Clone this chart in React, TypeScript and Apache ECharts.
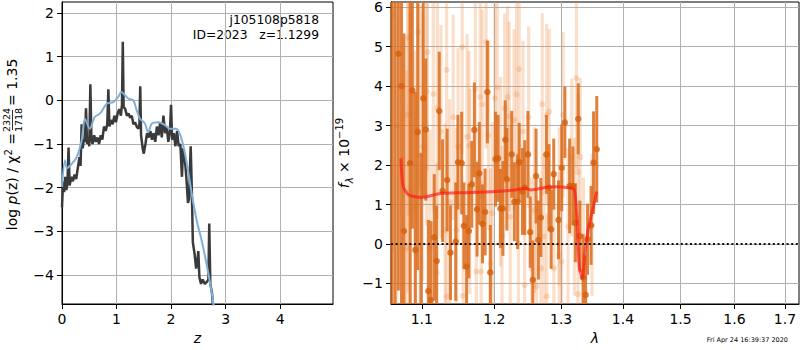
import React, { useEffect, useRef } from 'react';
import * as echarts from 'echarts';

// ---------- Left panel: log p(z) ----------
const zBlack = [0.00,0.02,0.04,0.06,0.08,0.10,0.12,0.14,0.17,0.20,0.23,0.26,0.29,0.32,0.34,0.36,0.38,0.40,0.42,0.44,0.46,0.48,0.50,0.52,0.54,0.56,0.59,0.62,0.65,0.68,0.71,0.74,0.77,0.80,0.83,0.85,0.87,0.90,0.93,0.96,0.99,1.02,1.05,1.08,1.10,1.115,1.13,1.16,1.19,1.22,1.25,1.28,1.31,1.34,1.37,1.40,1.42,1.435,1.45,1.48,1.50,1.53,1.56,1.59,1.62,1.65,1.68,1.71,1.74,1.77,1.80,1.83,1.86,1.89,1.92,1.95,1.98,2.00,2.02,2.05,2.08,2.11,2.14,2.17,2.20,2.22,2.25,2.28,2.31,2.33,2.36,2.38,2.40,2.43,2.46,2.48,2.50,2.52,2.55,2.58,2.62,2.66,2.685,2.70,2.72,2.75,2.80];
const logpBlack = [-2.45,-1.85,-2.1,-1.75,-2.05,-1.9,-1.08,-1.95,-1.75,-1.85,-1.7,-1.8,-1.55,-1.3,-1.5,-0.55,-1.1,-0.9,-0.95,-0.18,-1.0,-0.85,-1.05,0.37,-0.9,-1.0,-0.8,-0.95,-0.85,-1.0,-0.8,-0.9,-0.6,-0.7,-0.55,0.25,-0.6,-0.45,-0.55,-0.35,-0.5,-0.3,-0.2,-0.35,-0.1,1.34,-0.15,-0.2,-0.35,-0.3,-0.4,-0.35,-0.55,-0.5,-0.6,-0.65,-0.55,0.32,-0.8,-1.1,-1.22,-1.0,-0.75,-0.85,-0.7,-0.9,-0.75,-0.95,-0.6,-0.8,-0.5,-0.85,-0.35,-0.75,-0.6,-0.95,-0.7,-0.1,-0.9,-0.75,-1.05,-0.7,-1.05,-1.0,-1.75,-1.1,-1.3,-1.75,-2.35,-2.25,-1.05,-2.0,-3.25,-3.5,-3.85,-3.7,-3.45,-4.05,-4.2,-4.1,-4.2,-4.15,-4.1,-2.82,-4.2,-4.4,-5.2];

const zBlue = [0.00,0.055,0.09,0.18,0.27,0.36,0.42,0.51,0.60,0.70,0.82,0.94,1.03,1.09,1.16,1.22,1.31,1.37,1.43,1.52,1.58,1.65,1.77,1.89,1.98,2.10,2.20,2.29,2.38,2.47,2.56,2.65,2.75,2.81];
const logpBlue = [-1.98,-1.37,-1.55,-1.45,-1.3,-0.92,-0.42,-0.65,-0.38,-0.3,-0.08,-0.04,0.08,0.19,0.11,0.04,0.0,-0.23,-0.42,-0.53,-0.73,-0.53,-0.5,-0.57,-0.65,-0.65,-0.92,-1.45,-2.14,-2.75,-3.2,-3.74,-4.43,-5.0];

const leftXTicks = [0, 1, 2, 3, 4];
const leftYTicks = [-4, -3, -2, -1, 0, 1, 2];

// ---------- Right panel: spectrum ----------
const darkLam = [1.0615,1.0654,1.0696,1.0736,1.0768,1.0848,1.0877,1.0916,1.0947,1.0990,1.102,1.1053,1.1087,1.1123,1.1166,1.1198,1.1233,1.1278,1.134,1.1385,1.1457,1.1488,1.1539,1.157,1.1607,1.1639,1.168,1.1716,1.1754,1.1786,1.1831,1.1868,1.19,1.1942,1.2017,1.2054,1.2087,1.2124,1.2158,1.2181,1.2252,1.2291,1.2339,1.2363,1.2411,1.2445,1.2493,1.2527,1.2566,1.2615,1.265,1.2688,1.2772,1.2811,1.2845,1.2885,1.2959,1.3009,1.3058,1.3133,1.3184,1.3224,1.3269,1.3295,1.3346,1.3387,1.3418,1.3475,1.3515,1.3567];
const darkFlux = [6.8,-2.0,4.82,4.0,0.33,2.05,3.89,-0.15,2.84,-2.2,3.69,2.9,-1.19,-1.42,0.17,-0.43,3.37,1.35,1.62,-0.22,0.06,2.07,2.05,0.46,-0.57,0.33,1.51,2.89,0.88,1.79,0.51,0.81,3.85,-0.72,2.15,2.17,0.9,0.9,2.64,1.64,2.27,1.07,1.07,2.07,1.33,1.43,2.27,0.3,-0.91,1.72,0.1,0.67,2.27,1.43,0.37,1.77,0.61,1.93,3.08,1.47,1.47,0.54,3.17,0.2,-0.85,-1.29,0.12,0.47,2.06,2.4];
const darkErr = [8.5,8.5,6,6,5,4.5,3.5,4,3.5,4.5,2.5,1.8,1.8,2,1.6,1.4,1.5,1.3,1.3,1.2,1.5,1.2,1.3,1.1,1.3,1.2,1.1,1.2,1.2,1.3,1.0,1.1,1.3,1.2,1.2,1.1,1.0,1.2,1.0,1.3,1.1,1.0,1.2,1.0,1.1,1.2,1.1,0.9,1.0,1.2,1.0,1.0,1.0,1.1,1.0,0.9,1.0,1.1,0.9,1.2,1.0,1.0,0.9,0.9,1.1,1.0,0.9,1.0,1.3,1.35];

const lightLam = [1.0625,1.0675,1.0804,1.0817,1.0825,1.0848,1.0912,1.0955,1.0978,1.1013,1.1066,1.1074,1.111,1.1154,1.1198,1.1207,1.1256,1.1311,1.1333,1.1333,1.1375,1.1423,1.1466,1.149,1.1546,1.1559,1.1614,1.1641,1.1651,1.1729,1.1743,1.1798,1.1812,1.1826,1.1881,1.1917,1.1945,1.1972,1.2006,1.2042,1.209,1.211,1.215,1.2192,1.2216,1.223,1.2287,1.2324,1.235,1.2362,1.2419,1.2443,1.2504,1.2547,1.259,1.2623,1.2688,1.2709,1.2735,1.2777,1.2777,1.2815,1.2888,1.297,1.297,1.3009,1.3029,1.3108,1.3167,1.3208,1.3241,1.3265,1.3265,1.33,1.3353,1.349];
const lightFlux = [5.8,3.0,-0.11,3.27,5.23,1.33,0.9,5.37,2.26,2.47,3.86,4.86,-0.11,3.8,-0.74,3.44,2.85,0.35,4.41,-1.33,1.07,3.21,0.35,2.47,4.99,-1.31,2.72,2.49,1.33,3.92,-0.7,3.72,-0.7,3.54,5.12,2.75,-0.49,0.78,3.69,3.97,1.83,0.19,3.44,3.72,3.23,0.69,3.14,3.79,0.02,4.43,2.85,-1.04,3.21,-0.62,0.86,-1.08,-0.62,3.54,0.19,3.27,-1.33,3.35,-0.62,-0.28,0.95,-0.45,3.27,0.44,2.19,0.69,4.2,1.82,-1.27,2.2,-0.32,0.48];
const lightErr = [6,6,4.5,4.5,4.5,4.5,4,4,3.8,3.4,3.4,3.0,3.0,3.0,2.8,2.8,2.7,2.7,2.7,2.7,2.6,2.6,2.6,2.5,2.7,2.4,2.6,2.4,2.6,2.6,2.4,2.6,2.3,2.4,2.7,2.4,2.4,2.3,2.4,2.6,2.4,2.3,2.4,2.3,2.4,2.3,2.3,2.4,2.3,2.4,2.3,2.3,2.3,2.3,2.1,2.3,2.1,2.3,2.1,2.3,2.1,2.1,2.1,2.1,2.0,2.1,2.1,2.0,2.0,2.0,2.3,2.0,2.0,2.0,2.0,1.8];

const modelLam = [1.0728,1.0758,1.0833,1.1,1.1244,1.1559,1.2017,1.23,1.2445,1.2543,1.2777,1.293,1.3173,1.321,1.3245,1.3285,1.3335,1.3375,1.3436,1.3513,1.3565];
const modelFlux = [2.17,1.45,1.24,1.18,1.28,1.3,1.33,1.37,1.41,1.37,1.44,1.45,1.41,1.37,0.78,-0.57,-0.87,-0.24,0.44,0.95,1.33];

const rightXTicks = [1.1, 1.2, 1.3, 1.4, 1.5, 1.6, 1.7];
const rightYTicks = [-1, 0, 1, 2, 3, 4, 5, 6];

const LAM_MIN = 1.0602;
const LAM_MAX = 1.7288;
const Y2MIN = -1.52;
const Y2MAX = 6.13;

const FONT = 'DejaVu Sans';
const minus = (v: number | string) => String(v).replace('-', '\u2212');

function errRender(color: string, width: number) {
  return (params: any, api: any) => {
    const x = api.value(0);
    const y = api.value(1);
    const e = api.value(2);
    const lo = Math.max(y - e, Y2MIN);
    const hi = Math.min(y + e, Y2MAX);
    if (lo >= hi) return null;
    const p1 = api.coord([x, lo]);
    const p2 = api.coord([x, hi]);
    return {
      type: 'line',
      shape: { x1: p1[0], y1: p1[1], x2: p2[0], y2: p2[1] },
      style: { stroke: color, lineWidth: width },
    };
  };
}

function axisCommon() {
  return {
    axisLine: { show: true, onZero: false, lineStyle: { color: '#000', width: 1 } },
    splitLine: { show: true, lineStyle: { color: '#b0b0b0', width: 1 } },
  };
}

export default function App() {
  const ref = useRef<HTMLDivElement>(null);
  useEffect(() => {
    if (!ref.current) return;
    const chart = echarts.init(ref.current, undefined, { renderer: 'svg' });
    const labelStyle = { color: '#000', fontSize: 14, fontFamily: FONT };

    const option: any = {
      animation: false,
      backgroundColor: '#fff',
      grid: [
        { left: 62, top: 2, width: 271, height: 302, show: true, borderColor: '#000', borderWidth: 1 },
        { left: 391, top: 2, width: 408, height: 302, show: true, borderColor: '#000', borderWidth: 1 },
      ],
      xAxis: [
        {
          gridIndex: 0, type: 'value', min: 0, max: 4.97, splitNumber: 5,
          ...axisCommon(),
          axisTick: { show: true, length: 5, lineStyle: { color: '#000' }, customValues: leftXTicks },
          axisLabel: { ...labelStyle, margin: 8, customValues: leftXTicks, formatter: (v: number) => minus(v) },
          name: 'z', nameLocation: 'middle', nameGap: 25,
          nameTextStyle: { ...labelStyle, fontStyle: 'italic' },
        },
        {
          gridIndex: 1, type: 'value', min: Math.log(LAM_MIN), max: Math.log(LAM_MAX),
          ...axisCommon(),
          axisTick: { show: true, length: 5, lineStyle: { color: '#000' }, customValues: rightXTicks.map(Math.log) },
          axisLabel: { ...labelStyle, margin: 8, customValues: rightXTicks.map(Math.log), formatter: (v: number) => Math.exp(v).toFixed(1) },
          name: 'λ', nameLocation: 'middle', nameGap: 25,
          nameTextStyle: { ...labelStyle, fontStyle: 'italic' },
        },
      ],
      yAxis: [
        {
          gridIndex: 0, type: 'value', min: -4.66, max: 2.25, splitNumber: 6,
          ...axisCommon(),
          axisTick: { show: true, length: 5, lineStyle: { color: '#000' }, customValues: leftYTicks },
          axisLabel: { ...labelStyle, margin: 8, customValues: leftYTicks, formatter: (v: number) => minus(v) },
        },
        {
          gridIndex: 1, type: 'value', min: Y2MIN, max: Y2MAX, splitNumber: 7,
          ...axisCommon(),
          axisTick: { show: true, length: 5, lineStyle: { color: '#000' }, customValues: rightYTicks },
          axisLabel: { ...labelStyle, margin: 8, customValues: rightYTicks, formatter: (v: number) => minus(v) },
        },
      ],
      series: [
        {
          type: 'line', xAxisIndex: 0, yAxisIndex: 0, showSymbol: false, symbol: 'none',
          data: zBlack.map((z, i) => [z, logpBlack[i]]),
          lineStyle: { color: '#3a3a3a', width: 2.5 }, z: 2,
        },
        {
          type: 'line', xAxisIndex: 0, yAxisIndex: 0, showSymbol: false, symbol: 'none', smooth: 0.3,
          data: zBlue.map((z, i) => [z, logpBlue[i]]),
          lineStyle: { color: '#7fb0d8', width: 2 }, z: 3,
        },
        {
          type: 'custom', xAxisIndex: 1, yAxisIndex: 1,
          renderItem: errRender('rgba(236,140,70,0.28)', 3.2),
          data: lightLam.map((l, i) => [Math.log(l), lightFlux[i], lightErr[i]]),
          encode: { x: 0, y: 1 }, z: 2,
        },
        {
          type: 'scatter', xAxisIndex: 1, yAxisIndex: 1, symbolSize: 6,
          data: lightLam.map((l, i) => [Math.log(l), lightFlux[i]]),
          itemStyle: { color: 'rgba(232,128,50,0.3)' }, z: 3,
        },
        {
          type: 'custom', xAxisIndex: 1, yAxisIndex: 1,
          renderItem: errRender('rgba(218,108,28,0.85)', 3),
          data: darkLam.map((l, i) => [Math.log(l), darkFlux[i], darkErr[i]]),
          encode: { x: 0, y: 1 }, z: 4,
        },
        {
          type: 'scatter', xAxisIndex: 1, yAxisIndex: 1, symbolSize: 6.5,
          data: darkLam.map((l, i) => [Math.log(l), darkFlux[i]]),
          itemStyle: { color: '#d4600c' }, z: 5,
        },
        {
          type: 'line', xAxisIndex: 1, yAxisIndex: 1, showSymbol: false, symbol: 'none', smooth: 0.2,
          data: modelLam.map((l, i) => [Math.log(l), modelFlux[i]]),
          lineStyle: { color: 'rgba(255,20,20,0.65)', width: 3 }, z: 6,
        },
        {
          type: 'line', xAxisIndex: 1, yAxisIndex: 1, showSymbol: false, symbol: 'none',
          data: [[Math.log(LAM_MIN), 0], [Math.log(LAM_MAX), 0]],
          lineStyle: { color: '#111', width: 2, type: [2, 2.6] }, z: 7,
        },
      ],
      graphic: [
        {
          type: 'text', x: 319, y: 19.5,
          style: { text: 'j105108p5818', fontSize: 12.3, fontFamily: FONT, fill: '#000', align: 'right', verticalAlign: 'middle' },
        },
        {
          type: 'text', x: 319, y: 34.5,
          style: { text: 'ID=2023   z=1.1299', fontSize: 12.3, fontFamily: FONT, fill: '#000', align: 'right', verticalAlign: 'middle' },
        },
        {
          type: 'group', x: 12, y: 153, rotation: Math.PI / 2,
          children: [
            {
              type: 'text', x: 20, y: 0,
              style: {
                text: '{n|log }{i|p}{n|(z) / χ}{s|2}{n| =}',
                align: 'right', verticalAlign: 'middle', fill: '#000',
                rich: {
                  n: { fontSize: 14, fontFamily: FONT, fill: '#000', lineHeight: 18 },
                  i: { fontSize: 14, fontFamily: FONT, fontStyle: 'italic', fill: '#000', lineHeight: 18 },
                  s: { fontSize: 10, fontFamily: FONT, fill: '#000', verticalAlign: 'top', lineHeight: 12 },
                },
              },
            },
            {
              type: 'text', x: 33, y: -5.5,
              style: { text: '2324', fontSize: 9.5, fontFamily: FONT, fill: '#000', align: 'center', verticalAlign: 'middle' },
            },
            {
              type: 'line', shape: { x1: 23, y1: 0.5, x2: 43, y2: 0.5 },
              style: { stroke: '#000', lineWidth: 0.8 },
            },
            {
              type: 'text', x: 33, y: 6.5,
              style: { text: '1718', fontSize: 9.5, fontFamily: FONT, fill: '#000', align: 'center', verticalAlign: 'middle' },
            },
            {
              type: 'text', x: 47, y: 0,
              style: { text: '= 1.35', fontSize: 14, fontFamily: FONT, fill: '#000', align: 'left', verticalAlign: 'middle' },
            },
          ],
        },
        {
          type: 'text', x: 344, y: 153, rotation: Math.PI / 2,
          style: {
            text: '{i|f}{b|λ}{n| × 10}{s|−19}',
            align: 'center', verticalAlign: 'middle', fill: '#000',
            rich: {
              i: { fontSize: 14, fontFamily: FONT, fontStyle: 'italic', fill: '#000', lineHeight: 20 },
              b: { fontSize: 10, fontFamily: FONT, fontStyle: 'italic', fill: '#000', verticalAlign: 'bottom', lineHeight: 12 },
              n: { fontSize: 14, fontFamily: FONT, fill: '#000', lineHeight: 20 },
              s: { fontSize: 10, fontFamily: FONT, fill: '#000', verticalAlign: 'top', lineHeight: 12 },
            },
          },
        },
        {
          type: 'text', x: 788, y: 339.5,
          style: { text: 'Fri Apr 24 16:39:37 2020', fontSize: 6.5, fontFamily: FONT, fill: '#000', align: 'right', verticalAlign: 'middle' },
        },
      ],
    };
    chart.setOption(option);
    return () => chart.dispose();
  }, []);

  return <div ref={ref} style={{ position: 'absolute', left: 0, top: 0, width: 800, height: 350 }} />;
}
